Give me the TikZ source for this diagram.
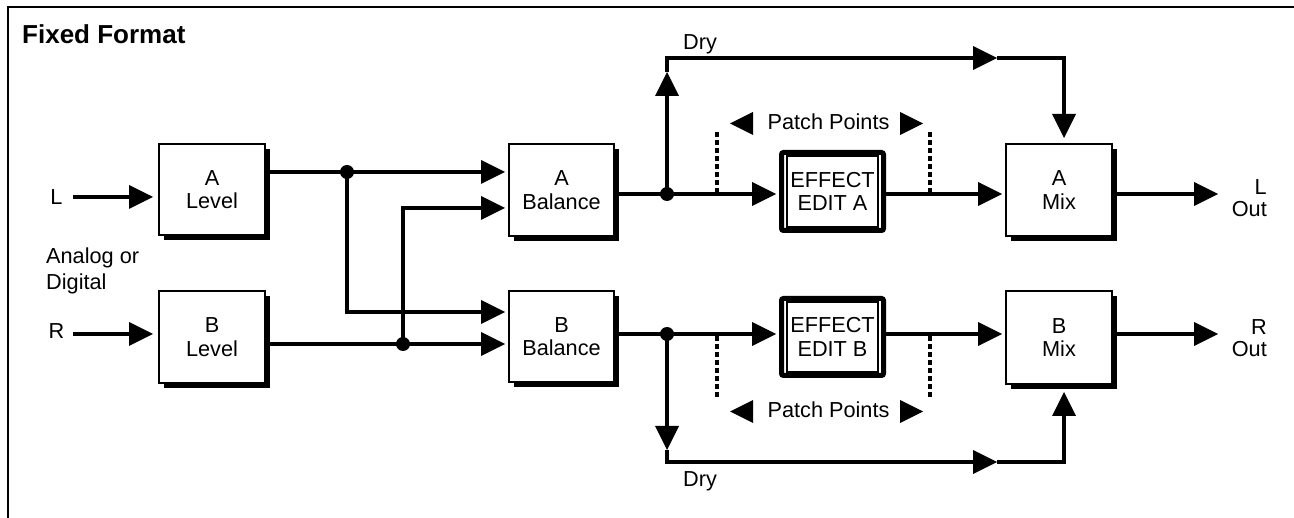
\documentclass[tikz,border=0pt]{standalone}
\usepackage{fontspec}
\setmainfont{Liberation Sans}
\usetikzlibrary{arrows.meta,shadows}
\begin{document}
\begin{tikzpicture}[x=1pt,y=-1pt,
  lbl/.style={font={\fontsize{21.7}{23.3}\selectfont}},
  blk/.style={draw, line width=2pt, fill=white, align=center, lbl, inner sep=0pt,
    drop shadow={shadow xshift=5pt, shadow yshift=-5pt, opacity=1, fill=black}},
  fx/.style={draw, line width=5pt, fill=white, rounded corners=2pt, align=center, lbl,
    inner sep=0pt, minimum width=102pt},
  wire/.style={line width=4.5pt},
  arr/.style={wire, -{Triangle[length=24pt,width=24pt,line width=0pt]}},
  dot/.style={circle, fill=black, inner sep=0pt, minimum size=14pt},
  patch/.style={line width=4pt, dash pattern=on 5pt off 3pt},
  txt/.style={lbl, inner sep=0pt}]
\useasboundingbox (0,0) rectangle (1294,518);
\draw[line width=2pt] (8,518) -- (8,7) -- (1294,7);

% text
\node[font={\fontsize{26}{30}\selectfont\bfseries}, anchor=base west, inner sep=0pt] (title) at (22,44) {Fixed Format};
\node[txt, anchor=base] (Ltxt) at (56.5,205) {L};
\node[txt, anchor=base] (Rtxt) at (56.5,339) {R};
\node[inner sep=0pt, font={\fontsize{21.7}{26.7}\selectfont}, align=left, anchor=base west] (adtxt) at (46,290) {Analog or\\Digital};
\node[txt, anchor=base west] (dry1) at (683,50) {Dry};
\node[txt, anchor=base west] (dry2) at (683,487) {Dry};
\node[txt, anchor=base] (pp1) at (828.5,130) {Patch Points};
\node[txt, anchor=base] (pp2) at (828.5,418) {Patch Points};
\node[inner sep=0pt, font={\fontsize{21.7}{22}\selectfont}, align=right, anchor=base east] (lout) at (1267,217) {L\\Out};
\node[inner sep=0pt, font={\fontsize{21.7}{22}\selectfont}, align=right, anchor=base east] (rout) at (1267,357) {R\\Out};

% patch point markers
\fill (730,123.5) -- (753,112) -- (753,135) -- cycle;
\fill (923,123.5) -- (900,112) -- (900,135) -- cycle;
\fill (730,411.5) -- (753,400) -- (753,423) -- cycle;
\fill (923,411.5) -- (900,400) -- (900,423) -- cycle;
\draw[patch] (717,132) -- (717,192);
\draw[patch] (930,132) -- (930,192);
\draw[patch] (717,336) -- (717,398);
\draw[patch] (930,336) -- (930,398);

% coordinates
\coordinate (Ls) at (73,197);
\coordinate (Rs) at (73,334);
\coordinate (ja) at (347,172);
\coordinate (ja2) at (347,312);
\coordinate (jb) at (403,344);
\coordinate (jb2) at (403,208);
\coordinate (da) at (667,194);
\coordinate (db) at (667,334);
\coordinate (Lo) at (1218,194);
\coordinate (Ro) at (1218,334);
\coordinate (ua) at (667,72);
\coordinate (ub) at (667,58);
\coordinate (uc) at (997,58);
\coordinate (ud) at (1064,58);
\coordinate (la) at (667,450);
\coordinate (lb) at (667,462);
\coordinate (lc) at (997,462);
\coordinate (ld) at (1064,462);

% blocks
\node[blk, minimum width=106pt, minimum height=91pt] (alev) at (212,189.5) {A\\Level};
\node[blk, minimum width=106pt, minimum height=92pt] (blev) at (212,337) {B\\Level};
\node[blk, minimum width=105pt, minimum height=92pt] (abal) at (561.5,190) {A\\Balance};
\node[blk, minimum width=105pt, minimum height=91pt] (bbal) at (561.5,336.5) {B\\Balance};
\node[blk, minimum width=106pt, minimum height=92pt] (amix) at (1059,190) {A\\Mix};
\node[blk, minimum width=106pt, minimum height=93pt] (bmix) at (1059,337.5) {B\\Mix};
\node[fx, minimum height=78pt] (effa) at (832.5,191.5) {EFFECT\\EDIT A};
\node[fx, minimum height=77pt] (effb) at (832.5,337) {EFFECT\\EDIT B};
\draw[line width=1.8pt] ([shift={(7.7,6.2)}]effa.north west) rectangle ([shift={(-7.7,-6.2)}]effa.south east);
\draw[line width=1.8pt] ([shift={(7.7,6.2)}]effb.north west) rectangle ([shift={(-7.7,-6.2)}]effb.south east);

% connectors
\draw[arr, shorten >=5pt] (Ls) -- (Ls -| alev.west);
\draw[arr, shorten >=5pt] (Rs) -- (Rs -| blev.west);
\draw[arr, shorten >=3pt] (alev.east |- ja) -- (ja -| abal.west);
\draw[arr, shorten >=3pt] (ja) -- (ja2) -- (ja2 -| bbal.west);
\draw[arr, shorten >=3pt] (blev.east |- jb) -- (jb -| bbal.west);
\draw[arr, shorten >=3pt] (jb) -- (jb2) -- (jb2 -| abal.west);
\draw[arr, shorten >=3pt] (abal.east |- da) -- (da -| effa.west);
\draw[arr, shorten >=3pt] (effa.east |- da) -- (da -| amix.west);
\draw[arr, shorten >=3pt] (bbal.east |- db) -- (db -| effb.west);
\draw[arr, shorten >=3pt] (effb.east |- db) -- (db -| bmix.west);
\draw[arr] (Lo -| amix.east) -- (Lo);
\draw[arr] (Ro -| bmix.east) -- (Ro);
\draw[arr] (da) -- (ua);
\draw[arr] (ua) -- (ub) -- (uc);
\draw[arr, shorten >=5pt] (uc) -- (ud) -- (ud |- amix.north);
\draw[arr] (db) -- (la);
\draw[arr] (la) -- (lb) -- (lc);
\draw[arr, shorten >=7pt] (lc) -- (ld) -- (ld |- bmix.south);

% junction dots
\node[dot] (dja) at (ja) {};
\node[dot] (djb) at (jb) {};
\node[dot] (dda) at (da) {};
\node[dot] (ddb) at (db) {};
\end{tikzpicture}
\end{document}
